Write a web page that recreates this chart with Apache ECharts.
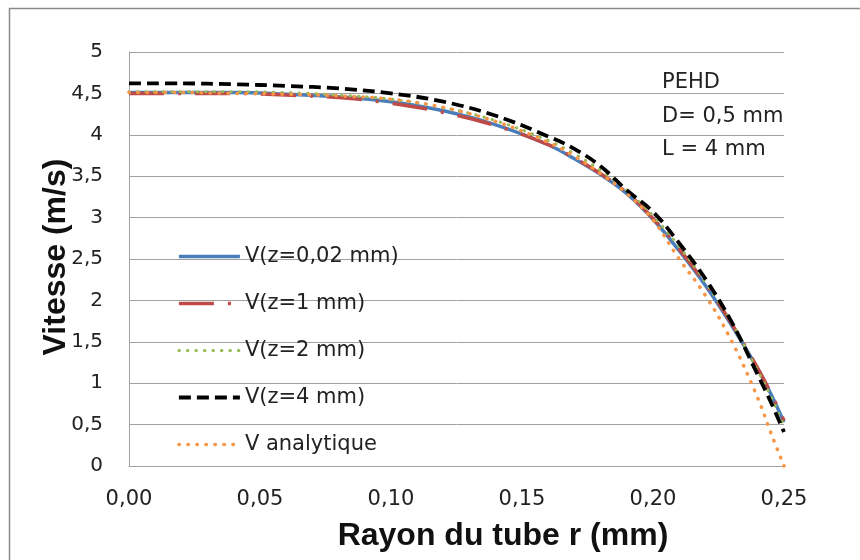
<!DOCTYPE html>
<html>
<head>
<meta charset="utf-8">
<script src="https://cdn.jsdelivr.net/npm/echarts@6/dist/echarts.min.js"></script>
<style>html,body{margin:0;padding:0;background:#fff;}#c{width:860px;height:560px;}</style>
</head>
<body>
<div id="c"></div>
<script>
// Radius (mm)
const rValues = [0, 0.02, 0.04, 0.06, 0.08, 0.10, 0.12, 0.14, 0.16, 0.17, 0.18, 0.19, 0.20, 0.21, 0.22, 0.23, 0.24, 0.245, 0.25];
// Velocity (m/s)
const vZ002 = [4.51, 4.51, 4.51, 4.49, 4.46, 4.40, 4.29, 4.12, 3.88, 3.71, 3.52, 3.29, 2.98, 2.60, 2.18, 1.70, 1.17, 0.87, 0.53];
const vZ1   = [4.50, 4.50, 4.50, 4.48, 4.45, 4.38, 4.27, 4.11, 3.88, 3.72, 3.53, 3.30, 2.99, 2.62, 2.20, 1.72, 1.18, 0.88, 0.55];
const vZ2   = [4.52, 4.52, 4.52, 4.51, 4.48, 4.43, 4.33, 4.17, 3.93, 3.77, 3.57, 3.33, 3.02, 2.65, 2.22, 1.73, 1.15, 0.84, 0.48];
const vZ4   = [4.62, 4.62, 4.61, 4.59, 4.56, 4.50, 4.40, 4.23, 3.98, 3.83, 3.62, 3.33, 3.07, 2.69, 2.26, 1.74, 1.10, 0.77, 0.41];
const vAnal = [4.51, 4.51, 4.50, 4.49, 4.47, 4.43, 4.33, 4.16, 3.91, 3.74, 3.53, 3.29, 2.97, 2.50, 2.06, 1.51, 0.82, 0.40, 0.00];

const seriesNames = ['V(z=0,02 mm)', 'V(z=1 mm)', 'V(z=2 mm)', 'V(z=4 mm)', 'V analytique'];
const xTickLabels = ['0,00', '0,05', '0,10', '0,15', '0,20', '0,25'];
const yTickLabels = ['0', '0,5', '1', '1,5', '2', '2,5', '3', '3,5', '4', '4,5', '5'];
const annotationLines = ['PEHD', 'D= 0,5 mm', 'L = 4 mm'];
const xTitle = 'Rayon du tube r (mm)';
const yTitle = 'Vitesse (m/s)';

const pairs = (vals) => rValues.map((r, i) => [r, vals[i]]);
const FONT = 'DejaVu Sans';
const TFONT = 'Liberation Sans';

const styles = [
  { color: '#4a7ebb', width: 3.5, type: 'solid', cap: 'butt' },
  { color: '#be4b48', width: 3.5, type: [35, 14, 3, 14], cap: 'butt' },
  { color: '#98b954', width: 3, type: [0.5, 8], cap: 'round' },
  { color: '#000000', width: 3.8, type: [12, 6], cap: 'butt' },
  { color: '#f79646', width: 3.5, type: [0.5, 8.5], cap: 'round' }
];
const allVals = [vZ002, vZ1, vZ2, vZ4, vAnal];

const chart = echarts.init(document.getElementById('c'), null, { renderer: 'canvas' });
chart.setOption({
  animation: false,
  backgroundColor: '#ffffff',
  grid: { left: 129, right: 76, top: 52, bottom: 94, containLabel: false },
  xAxis: {
    type: 'value', min: 0, max: 0.25, interval: 0.05,
    axisLine: { show: true, lineStyle: { color: '#a0a0a0', width: 1 } },
    axisTick: { show: false },
    splitLine: { show: false },
    axisLabel: {
      margin: 23, fontFamily: FONT, fontSize: 21, color: '#222',
      formatter: (v) => xTickLabels[Math.round(v / 0.05)]
    }
  },
  yAxis: {
    type: 'value', min: 0, max: 5, interval: 0.5,
    axisLine: { show: true, lineStyle: { color: '#a0a0a0', width: 1 } },
    axisTick: { show: false },
    splitLine: { show: true, lineStyle: { color: '#a0a0a0', width: 1 } },
    axisLabel: {
      margin: 26, fontFamily: FONT, fontSize: 20, color: '#222',
      formatter: (v) => yTickLabels[Math.round(v / 0.5)]
    }
  },
  legend: {
    orient: 'vertical', left: 177, top: 246, padding: 0,
    itemWidth: 61, itemHeight: 20, itemGap: 26,
    itemStyle: { opacity: 0 },
    textStyle: { fontFamily: FONT, fontSize: 21, color: '#222', lineHeight: 20 },
    data: seriesNames.map((name, i) => ({
      name: name,
      lineStyle: { color: styles[i].color, width: styles[i].width, type: styles[i].type, cap: styles[i].cap }
    }))
  },
  graphic: [
    { type: 'rect', silent: true, shape: { x: 9.5, y: 8.5, width: 900, height: 600 },
      style: { fill: 'none', stroke: '#8a8a8a', lineWidth: 1.5 } },
    { type: 'text', left: 662, top: 66, silent: true,
      style: { text: annotationLines.join('\n'), fontFamily: FONT, fontSize: 21, lineHeight: 33.5, fill: '#222' } },
    { type: 'text', x: 503, y: 536, silent: true,
      style: { text: xTitle, fontFamily: TFONT, fontWeight: 'bold', fontSize: 32, fill: '#111', align: 'center', verticalAlign: 'middle' } },
    { type: 'text', x: 56, y: 257, rotation: Math.PI / 2, silent: true,
      style: { text: yTitle, fontFamily: TFONT, fontWeight: 'bold', fontSize: 32, fill: '#111', align: 'center', verticalAlign: 'middle' } }
  ],
  series: seriesNames.map((name, i) => ({
    name: name, type: 'line', data: pairs(allVals[i]),
    symbol: 'none', smooth: 0.4,
    color: styles[i].color,
    lineStyle: { color: styles[i].color, width: styles[i].width, type: styles[i].type, cap: styles[i].cap },
    z: 2 + i
  }))
});
</script>
</body>
</html>
